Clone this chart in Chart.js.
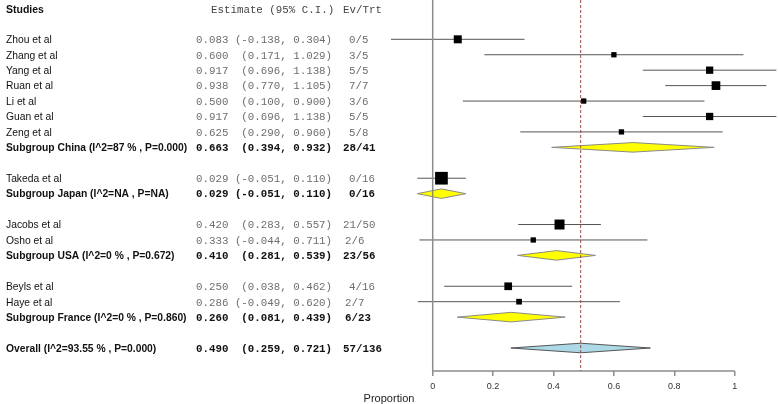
<!DOCTYPE html>
<html>
<head>
<meta charset="utf-8">
<script src="https://cdn.jsdelivr.net/npm/chart.js@4/dist/chart.umd.min.js"></script>
<style>
html,body{margin:0;padding:0;background:#fff;}
#wrap{width:778px;height:404px;position:relative;}
</style>
</head>
<body>
<div id="wrap"><canvas id="fp"></canvas></div>
<script>
/* ---- data ---- */
var rowLabel=['Zhou et al','Zhang et al','Yang et al','Ruan et al','Li et al','Guan et al','Zeng et al',
  'Subgroup China (I^2=87 % , P=0.000)','',
  'Takeda et al','Subgroup Japan (I^2=NA , P=NA)','',
  'Jacobs et al','Osho et al','Subgroup USA (I^2=0 % , P=0.672)','',
  'Beyls et al','Haye et al','Subgroup France (I^2=0 % , P=0.860)','',
  'Overall (I^2=93.55 % , P=0.000)'];
/* s = study, g = subgroup, o = overall, '' = blank */
var rowType=['s','s','s','s','s','s','s','g','','s','g','','s','s','g','','s','s','g','','o'];
var est=[0.083,0.600,0.917,0.938,0.500,0.917,0.625,0.663,null,0.029,0.029,null,0.420,0.333,0.410,null,0.250,0.286,0.260,null,0.490];
var lo=[-0.138,0.171,0.696,0.770,0.100,0.696,0.290,0.394,null,-0.051,-0.051,null,0.283,-0.044,0.281,null,0.038,-0.049,0.081,null,0.259];
var hi=[0.304,1.029,1.138,1.105,0.900,1.138,0.960,0.932,null,0.110,0.110,null,0.557,0.711,0.539,null,0.462,0.620,0.439,null,0.721];
var evTrt=['0/5','3/5','5/5','7/7','3/6','5/5','5/8','28/41','','0/16','0/16','','21/50','2/6','23/56','','4/16','2/7','6/23','','57/136'];
/* relative study weight (box size) */
var weight=[8,5.3,7.3,8.7,5.3,7.3,5.3,null,null,12.7,null,null,10,5.3,null,null,7.7,5.7,null,null,null];
var xTicks=[0,0.2,0.4,0.6,0.8,1];
var overallEst=0.490;

/* ---- layout ---- */
var evX=[349,349,349,349,349,349,349,343,0,349,349,0,343,345,343,0,349,345,345,0,343];
var SANS='"Liberation Sans", Arial, sans-serif', MONO='"Liberation Mono", "Courier New", monospace';

function f3(v){return v.toFixed(3);}
function ciText(i){
  return f3(est[i])+(lo[i]<0?' (':'  (')+f3(lo[i])+', '+f3(hi[i])+')';
}

var ds=[];
/* CI whiskers */
rowType.forEach(function(t,i){
  if(t!=='s')return;
  ds.push({data:[{x:lo[i],y:i},{x:hi[i],y:i}],showLine:true,borderColor:'#555',borderWidth:1,pointRadius:0,order:3});
});
/* study boxes */
var boxPts=[],boxR=[];
rowType.forEach(function(t,i){
  if(t!=='s')return;
  boxPts.push({x:est[i],y:i});boxR.push(weight[i]*0.7071);
});
ds.push({data:boxPts,pointStyle:'rect',pointRadius:boxR,pointHoverRadius:boxR,backgroundColor:'#000',borderColor:'#000',borderWidth:0,order:1});
/* pooled diamonds */
rowType.forEach(function(t,i){
  if(t!=='g'&&t!=='o')return;
  var h=0.31;
  ds.push({data:[{x:lo[i],y:i},{x:est[i],y:i-h},{x:hi[i],y:i},{x:est[i],y:i+h},{x:lo[i],y:i}],
    showLine:true,fill:'shape',pointRadius:0,borderWidth:1,
    borderColor:t==='o'?'#555':'#8a8a8a',backgroundColor:t==='o'?'#add8e6':'#ffff00',order:2});
});

var overlay={
  id:'overlay',
  afterDatasetsDraw:function(chart){
    var c=chart.ctx,xs=chart.scales.x,ys=chart.scales.y,a=chart.chartArea;
    c.save();
    /* null line & x axis */
    var x0=xs.getPixelForValue(0),x1=xs.getPixelForValue(1);
    c.strokeStyle='#8c8c8c';c.lineWidth=1.5;
    c.beginPath();c.moveTo(x0,a.top);c.lineTo(x0,a.bottom);c.moveTo(x0,a.bottom);c.lineTo(x1,a.bottom);c.stroke();
    /* overall estimate line */
    var xo=xs.getPixelForValue(overallEst);
    c.strokeStyle='#b83a3a';c.lineWidth=1;c.setLineDash([3,2]);
    c.beginPath();c.moveTo(xo,a.top);c.lineTo(xo,a.bottom);c.stroke();
    c.setLineDash([]);
    /* text columns */
    c.textBaseline='middle';c.textAlign='left';
    var yh=10;
    c.fillStyle='#111';c.font='bold 10.5px '+SANS;c.fillText('Studies',6,yh);
    c.fillStyle='#444';c.font='10.8px '+MONO;
    c.fillText('Estimate (95% C.I.)',211,yh);c.fillText('Ev/Trt',343,yh);
    rowType.forEach(function(t,i){
      if(!t)return;
      var y=ys.getPixelForValue(i)+1,bold=t!=='s';
      c.fillStyle='#111';c.font=(bold?'bold ':'')+'10.3px '+SANS;
      c.fillText(rowLabel[i],6,y);
      c.fillStyle=bold?'#111':'#6e6e6e';c.font=(bold?'bold ':'')+'10.8px '+MONO;
      c.fillText(ciText(i),196,y);
      c.fillText(evTrt[i],evX[i],y);
    });
    c.restore();
  }
};

new Chart(document.getElementById('fp'),{
  type:'scatter',
  data:{datasets:ds},
  options:{
    responsive:true,maintainAspectRatio:false,animation:false,
    layout:{padding:0,autoPadding:false},
    plugins:{legend:{display:false},tooltip:{enabled:false}},
    scales:{
      x:{type:'linear',min:-1.4328,max:1.1434,
        afterBuildTicks:function(s){s.ticks=xTicks.map(function(v){return{value:v};});},
        afterFit:function(s){s.height=33;},
        ticks:{font:{size:9,family:SANS},color:'#333',padding:5,maxRotation:0,autoSkip:false,
          callback:function(v){return (v===0||v===1)?String(v):v.toFixed(1);}},
        grid:{drawOnChartArea:false,drawTicks:true,tickLength:5,color:'#8c8c8c',lineWidth:1.5},
        border:{display:false},
        title:{display:true,text:'Proportion',font:{size:11,family:SANS,lineHeight:1},color:'#222',padding:{top:0,bottom:0}}
      },
      y:{type:'linear',display:false,reverse:true,min:-2.547,max:21.49}
    }
  },
  plugins:[overlay]
});
</script>
</body>
</html>
